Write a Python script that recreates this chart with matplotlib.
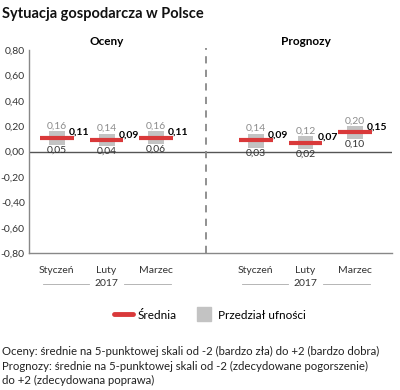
import matplotlib
matplotlib.use("Agg")
import matplotlib.pyplot as plt
import matplotlib.transforms as mt
from matplotlib.lines import Line2D

plt.rcParams['font.family'] = ['Lato', 'DejaVu Sans']

months = ["Styczeń", "Luty", "Marzec"]
panels = ["Oceny", "Prognozy"]
year = "2017"
mean_oceny = [0.11, 0.09, 0.11]
low_oceny = [0.05, 0.04, 0.06]
high_oceny = [0.16, 0.14, 0.16]
mean_prog = [0.09, 0.07, 0.15]
low_prog = [0.03, 0.02, 0.10]
high_prog = [0.14, 0.12, 0.20]
yticks = [0.8, 0.6, 0.4, 0.2, 0.0, -0.2, -0.4, -0.6, -0.8]

def fmt(v):
    return f"{v:.2f}".replace(".", ",")

fig = plt.figure(figsize=(4, 3.9), dpi=100)
ax = fig.add_axes([0.0725, 0.351, 0.9075, 0.521])

RED = "#d9393a"
GRAY = "#c3c3c3"
pos_sets = [[0, 1, 2], [4, 5, 6]]
data = [(mean_oceny, low_oceny, high_oceny), (mean_prog, low_prog, high_prog)]

for pos, (m, lo, hi) in zip(pos_sets, data):
    for x, mv, lv, hv in zip(pos, m, lo, hi):
        ax.bar(x, hv - lv, bottom=lv, width=0.32, color=GRAY, zorder=2)
        ax.plot([x - 0.34, x + 0.34], [mv, mv], color=RED, lw=3.0,
                solid_capstyle='butt', zorder=3)
        ax.text(x, hv + 0.005, fmt(hv), ha='center', va='bottom',
                fontsize=7.5, color='#8c8c8c')
        ax.text(x, lv - 0.005, fmt(lv), ha='center', va='top',
                fontsize=7.5, color='#333333')
        ax.text(x + 0.24, mv + 0.004, fmt(mv), ha='left', va='bottom',
                fontsize=7.5, color='black', fontweight='bold', zorder=4)

ax.axhline(0, color='#555555', lw=1, zorder=1)
ax.axvline(3, color='#888888', lw=1.3, ls=(0, (4, 3.5)), zorder=1, clip_on=False,
           ymin=0, ymax=1.01)

ax.set_xlim(-0.56, 6.74)
ax.set_ylim(-0.8, 0.8)
ax.set_yticks(yticks)
ax.set_yticklabels([fmt(v) for v in yticks], fontsize=7.5, color='#333333')
ax.tick_params(axis='y', length=0, pad=3)
ax.set_xticks(pos_sets[0] + pos_sets[1])
ax.set_xticklabels(months + months, fontsize=7.5, color='#333333')
ax.tick_params(axis='x', length=0, pad=9)
for s in ['top', 'right']:
    ax.spines[s].set_visible(False)
for s in ['left', 'bottom']:
    ax.spines[s].set_color('#888888')
    ax.spines[s].set_linewidth(1)

yr_off = -22
for pos, name in zip(pos_sets, panels):
    ax.text(pos[1], 0.87, name, ha='center', va='center', fontsize=8.5,
            fontweight='bold')
    xc = pos[1]
    ax.annotate(year, xy=(xc, 0), xycoords=('data', 'axes fraction'),
                xytext=(0, yr_off), textcoords='offset points', ha='center',
                va='center', fontsize=7.5, color='#333333', annotation_clip=False)
    for a, b in [(pos[0] - 0.28, xc - 0.36), (xc + 0.36, pos[2] + 0.3)]:
        l = Line2D([a, b], [0, 0], color='#aaaaaa', lw=0.6)
        l.set_clip_on(False)
        l.set_transform(ax.get_xaxis_transform() +
                        mt.ScaledTranslation(0, yr_off / 72, fig.dpi_scale_trans))
        ax.add_line(l)

fig.text(0.005, 0.965, "Sytuacja gospodarcza w Polsce", fontsize=10.5,
         fontweight='bold', ha='left', va='center', color='#111111')

handles = [Line2D([0], [0], color=RED, lw=3.5, solid_capstyle='round'),
           Line2D([0], [0], color=GRAY, marker='s', ls='none', markersize=10)]
fig.legend(handles, ["Średnia", "Przedział ufności"], loc='center',
           bbox_to_anchor=(0.525, 0.192), ncol=2, frameon=False, fontsize=8.5,
           handlelength=1.6, columnspacing=1.5, handletextpad=0.4)

notes = ["Oceny: średnie na 5-punktowej skali od -2 (bardzo zła) do +2 (bardzo dobra)",
         "Prognozy: średnie na 5-punktowej skali od -2 (zdecydowane pogorszenie)",
         "do +2 (zdecydowana poprawa)"]
for i, n in enumerate(notes):
    fig.text(0.005, 0.098 - i * 0.037, n, fontsize=8.2, ha='left', va='center',
             color='#222222')

fig.savefig("out.png", dpi=100)
